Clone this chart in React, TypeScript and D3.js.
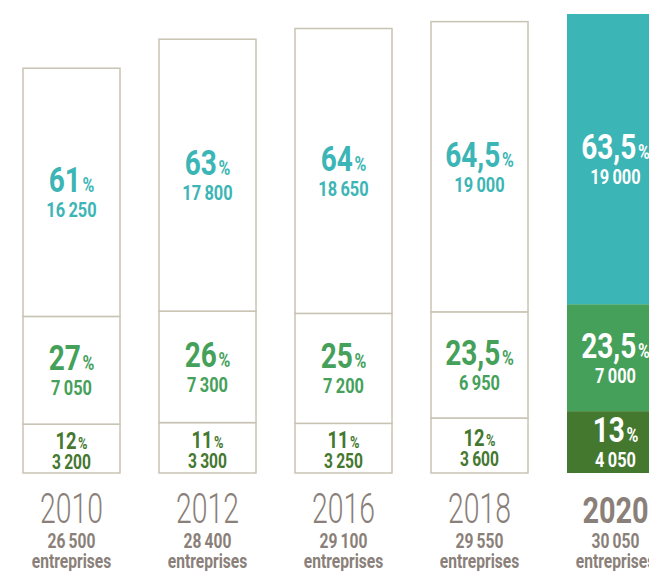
import React from "react";
import * as d3 from "d3";

const years = ["2010", "2012", "2016", "2018", "2020"];
const totals = [26500, 28400, 29100, 29550, 30050];
const bottomPct = [12, 11, 11, 12, 13];
const bottomVal = [3200, 3300, 3250, 3600, 4050];
const middlePct = [27, 26, 25, 23.5, 23.5];
const middleVal = [7050, 7300, 7200, 6950, 7000];
const topPct = [61, 63, 64, 64.5, 63.5];
const topVal = [16250, 17800, 18650, 19000, 19000];

const W = 649;
const H = 571;
const colors = ["#44782f", "#45a05a", "#3bb5b5"];
const border = "#c9c3b4";
const grey = "#8a7f79";
const FONT = "Roboto, 'Open Sans', sans-serif";

const loc = d3.formatLocale({ decimal: ",", thousands: "\u2009", grouping: [3], currency: ["", "€"] });
const fmtInt = loc.format(",d");
const fmtPct = (v: number) => (Number.isInteger(v) ? String(v) : loc.format(".1f")(v));

function T(props: {
  x: number;
  y: number;
  size: number;
  weight?: any;
  fill: string;
  sx?: number;
  children: any;
}) {
  const { x, y, size, weight = "bold", fill, sx = 0.78, children } = props;
  return (
    <g transform={`translate(${x},${y}) scale(${sx},1)`}>
      <text textAnchor="middle" fontFamily={FONT} fontWeight={weight} fontSize={size} fill={fill}>
        {children}
      </text>
    </g>
  );
}

export default function App() {
  const x = d3.scaleBand<string>().domain(years).range([23, 664]).paddingInner(39 / 136).paddingOuter(0);
  const y = d3.scaleLinear().domain([0, 30050]).range([473, 14]);
  const series = [
    { pct: bottomPct, val: bottomVal },
    { pct: middlePct, val: middleVal },
    { pct: topPct, val: topVal },
  ];
  const keys = ["b", "m", "t"];
  const rows = years.map((yr, i) => ({ year: yr, b: bottomVal[i], m: middleVal[i], t: topVal[i] }));
  const stacked = d3.stack<any>().keys(keys)(rows);
  const bw = x.bandwidth();

  return (
    <svg width={W} height={H} style={{ position: "absolute", left: 0, top: 0, background: "#fff" }}>
      {years.map((yr, i) => {
        const x0 = x(yr)!;
        const cx = x0 + bw / 2;
        const filled = i === years.length - 1;
        return (
          <g key={yr}>
            {stacked.map((layer, s) => {
              const [a, b] = layer[i];
              const yTop = y(b);
              const yBot = y(a);
              const h = yBot - yTop;
              return (
                <rect
                  key={s}
                  x={x0}
                  y={yTop}
                  width={bw}
                  height={h}
                  fill={filled ? colors[s] : "#ffffff"}
                  stroke={filled ? "none" : border}
                  strokeWidth={1.5}
                />
              );
            })}
            {stacked.map((layer, s) => {
              const [a, b] = layer[i];
              const yTop = y(b);
              const yBot = y(a);
              const h = yBot - yTop;
              const mid = (yTop + yBot) / 2;
              const small = h < 58;
              const txtColor = filled ? "#ffffff" : colors[s];
              const pctSize = small ? 23 : 35;
              const pctSign = small ? 16 : 20;
              const pctY = small ? mid : mid;
              const valY = small ? mid + 20 : mid + 25;
              return (
                <g key={"t" + s}>
                  <T x={cx} y={pctY} size={pctSize} fill={txtColor} sx={0.8}>
                    {fmtPct(series[s].pct[i])}
                    <tspan fontSize={pctSign} dx={2}>%</tspan>
                  </T>
                  <T x={cx} y={valY} size={small ? 20 : 21} fill={txtColor}>
                    {fmtInt(series[s].val[i])}
                  </T>
                </g>
              );
            })}
            <T x={cx} y={523} size={filled ? 37 : 43} weight={filled ? "bold" : 300} sx={filled ? 0.78 : 0.66} fill={grey}>
              {yr}
            </T>
            <T x={cx} y={548} size={19.5} fill={grey} sx={0.8}>
              {fmtInt(totals[i])}
            </T>
            <T x={cx} y={568} size={19.5} fill={grey} sx={0.8}>
              entreprises
            </T>
          </g>
        );
      })}
    </svg>
  );
}
